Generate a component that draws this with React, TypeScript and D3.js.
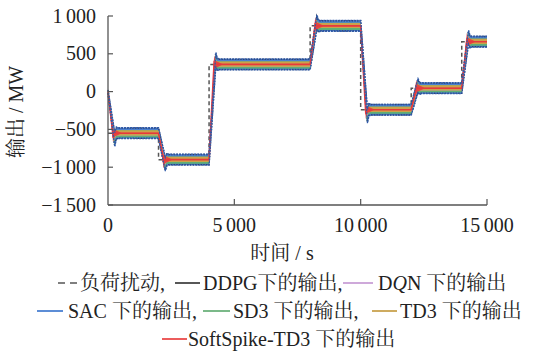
import React from "react";
import * as d3 from "d3";

// ---- data ----
const stepTimes = [0, 2000, 4000, 8000, 10000, 12000, 14000];
const loadLevels = [-550, -900, 360, 870, -240, 45, 660];
const overshoot = [-85, -60, 65, 50, -85, 35, 60];
const tEnd = 15000;

const seriesNames = ["DDPG", "DQN", "SAC", "SD3", "TD3", "SoftSpike-TD3"];
const seriesLag = [260, 250, 270, 240, 230, 200];
const seriesHalfBand = [68, 30, 72, 48, 34, 5];
const seriesOffset = [0, 0, 0, -6, 4, 0];
const seriesOvershootRatio = [0.9, 0.6, 1.0, 1.0, 0.6, 0.4];
const seriesSpread = [15, 12, 20, 18, 12, 85];

const xTicks = [0, 5000, 10000, 15000];
const yTicks = [1000, 500, 0, -500, -1000, -1500];

// ---- styles ----
const LATIN = "'Liberation Serif', 'Times New Roman', serif";
const CJK = "'Noto Serif CJK SC', 'Noto Sans CJK SC', serif";
const colors: Record<string, string> = {
  DDPG: "#3b3b3b",
  DQN: "#c79ad3",
  SAC: "#4a7fd0",
  SD3: "#5fae74",
  TD3: "#cba24a",
  "SoftSpike-TD3": "#e8383d",
};
const legendColors: Record<string, string> = {
  DDPG: "#444",
  DQN: "#c9a0d6",
  SAC: "#4a80d2",
  SD3: "#6cb27c",
  TD3: "#c9a24e",
  "SoftSpike-TD3": "#ea4a4a",
};

// split text into runs of CJK / non-CJK, each with its own font
function Runs({ s, italic }: { s: string; italic?: string }) {
  const parts: { t: string; cjk: boolean }[] = [];
  for (const ch of s) {
    const cjk = /[\u3000-\u9fff\uff00-\uffef]/.test(ch);
    const last = parts[parts.length - 1];
    if (last && last.cjk === cjk) last.t += ch;
    else parts.push({ t: ch, cjk });
  }
  return (
    <>
      {parts.map((p, i) => {
        if (!p.cjk && italic && p.t.includes(italic)) {
          const [a, b] = p.t.split(italic);
          return (
            <React.Fragment key={i}>
              <tspan fontFamily={LATIN}>{a}</tspan>
              <tspan fontFamily={LATIN} fontStyle="italic">{italic}</tspan>
              <tspan fontFamily={LATIN}>{b}</tspan>
            </React.Fragment>
          );
        }
        return (
          <tspan key={i} fontFamily={p.cjk ? CJK : LATIN}>{p.t}</tspan>
        );
      })}
    </>
  );
}

// number label with thin gap as thousands separator and a true minus
function NumLabel({ v }: { v: number }) {
  const s = d3.format("d")(Math.abs(v));
  const groups: string[] = [];
  for (let i = s.length; i > 0; i -= 3) groups.unshift(s.slice(Math.max(0, i - 3), i));
  return (
    <>
      {v < 0 && <tspan fontFamily={LATIN}>{"\u2212"}</tspan>}
      {groups.map((g, i) => (
        <tspan key={i} fontFamily={LATIN} dx={i > 0 ? 3.5 : 0}>{g}</tspan>
      ))}
    </>
  );
}

type P = { t: number; v: number; hw: number };

function buildSeries(si: number): P[] {
  const lag = seriesLag[si];
  const w = seriesHalfBand[si];
  const off = seriesOffset[si];
  const r = seriesOvershootRatio[si];
  const sp = seriesSpread[si];
  const isRed = seriesNames[si] === "SoftSpike-TD3";
  const settle = isRed ? 320 : 140;
  const pts: P[] = [{ t: 0, v: 0, hw: w * 0.3 }];
  stepTimes.forEach((T, i) => {
    const L = loadLevels[i] + off;
    if (i > 0) pts.push({ t: T, v: loadLevels[i - 1] + off, hw: w });
    pts.push({ t: T + lag, v: L + overshoot[i] * r, hw: w + sp });
    pts.push({ t: T + lag + 60, v: L, hw: w + sp * 0.5 });
    pts.push({ t: T + lag + settle, v: L, hw: w });
  });
  pts.push({ t: tEnd, v: loadLevels[loadLevels.length - 1] + off, hw: w });
  return pts;
}

export default function App() {
  const W = 553, H = 355;
  const x = d3.scaleLinear().domain([0, 15000]).range([108, 487]);
  const y = d3.scaleLinear().domain([-1500, 1000]).range([205, 16]);

  const area = d3.area<P>().x((d) => x(d.t)).y0((d) => y(d.v - d.hw)).y1((d) => y(d.v + d.hw));
  const upper = d3.line<P>().x((d) => x(d.t)).y((d) => y(d.v + d.hw));
  const lower = d3.line<P>().x((d) => x(d.t)).y((d) => y(d.v - d.hw));
  const mid = d3.line<P>().x((d) => x(d.t)).y((d) => y(d.v));

  const loadPts: [number, number][] = stepTimes.map((t, i) => [t, loadLevels[i]]);
  loadPts.push([tEnd, loadLevels[loadLevels.length - 1]]);
  const loadLine = d3.line<[number, number]>().x((d) => x(d[0])).y((d) => y(d[1])).curve(d3.curveStepAfter);

  const S = (name: string) => buildSeries(seriesNames.indexOf(name));
  const sac = S("SAC"), ddpg = S("DDPG"), dqn = S("DQN"), sd3 = S("SD3"), td3 = S("TD3"), ss = S("SoftSpike-TD3");

  const axisColor = "#555";
  const textColor = "#222";

  const legendRows = [
    { y: 290, items: [
      { key: "load", x1: 58, x2: 78, tx: 80, label: "负荷扰动," },
      { key: "DDPG", x1: 175, x2: 200, tx: 203, label: "DDPG下的输出," },
      { key: "DQN", x1: 343, x2: 373, tx: 378, label: "DQN 下的输出" },
    ] },
    { y: 318, items: [
      { key: "SAC", x1: 37, x2: 63, tx: 68, label: "SAC 下的输出," },
      { key: "SD3", x1: 203, x2: 230, tx: 233, label: "SD3 下的输出," },
      { key: "TD3", x1: 372, x2: 397, tx: 400, label: "TD3 下的输出" },
    ] },
    { y: 346, items: [
      { key: "SoftSpike-TD3", x1: 162, x2: 187, tx: 188, label: "SoftSpike-TD3 下的输出" },
    ] },
  ];

  return (
    <svg width={W} height={H} style={{ position: "absolute", left: 0, top: 0, background: "#fff" }}>
      <rect width={W} height={H} fill="#fff" />
      <path d={loadLine(loadPts) || ""} fill="none" stroke="#555" strokeWidth={1.5} strokeDasharray="4 3" />
      <path d={area(sac) || ""} fill={colors.SAC} />
      <path d={upper(ddpg) || ""} fill="none" stroke="#2b3f6e" strokeWidth={1.5} strokeDasharray="1.5 1.2" />
      <path d={lower(ddpg) || ""} fill="none" stroke="#2b3f6e" strokeWidth={1.5} strokeDasharray="1.5 1.2" />
      <path d={area(sd3) || ""} fill={colors.SD3} />
      <path d={area(dqn) || ""} fill={colors.DQN} opacity={0.9} />
      <path d={area(td3) || ""} fill={colors.TD3} />
      <path d={area(ss) || ""} fill={colors["SoftSpike-TD3"]} opacity={0.85} />
      <path d={mid(ss) || ""} fill="none" stroke={colors["SoftSpike-TD3"]} strokeWidth={1.6} />
      <path d={upper(sac) || ""} fill="none" stroke="#2f5aa8" strokeWidth={1.3} strokeDasharray="2 1" />
      <path d={lower(sac) || ""} fill="none" stroke="#2f5aa8" strokeWidth={1.3} strokeDasharray="2 1" />

      <line x1={x(0)} x2={x(0)} y1={y(1000)} y2={y(-1500)} stroke={axisColor} strokeWidth={1.3} />
      <line x1={x(0)} x2={x(15000)} y1={y(-1500)} y2={y(-1500)} stroke={axisColor} strokeWidth={1.3} />
      {yTicks.map((v) => (
        <g key={"y" + v}>
          <line x1={x(0)} x2={x(0) + 5} y1={y(v)} y2={y(v)} stroke={axisColor} strokeWidth={1.2} />
          <text x={96} y={y(v) + 6.5} textAnchor="end" fontSize={20} fill={textColor} fontFamily={LATIN}><NumLabel v={v} /></text>
        </g>
      ))}
      {xTicks.map((v) => (
        <g key={"x" + v}>
          {v > 0 && <line x1={x(v)} x2={x(v)} y1={y(-1500)} y2={y(-1500) - 6} stroke={axisColor} strokeWidth={1.2} />}
          <text x={x(v)} y={232} textAnchor="middle" fontSize={20} fill={textColor} fontFamily={LATIN}><NumLabel v={v} /></text>
        </g>
      ))}
      <text x={282} y={260} textAnchor="middle" fontSize={20} fill={textColor}><Runs s="时间 / s" /></text>
      <text transform="translate(23,112) rotate(-90)" textAnchor="middle" fontSize={20} fill={textColor}><Runs s="输出 / MW" /></text>

      {legendRows.map((row, ri) => (
        <g key={"r" + ri}>
          {row.items.map((it) => (
            <g key={it.key}>
              {it.key === "load" ? (
                <line x1={it.x1} x2={it.x2} y1={row.y - 7} y2={row.y - 7} stroke="#555" strokeWidth={1.4} strokeDasharray="7 5" />
              ) : (
                <line x1={it.x1} x2={it.x2} y1={row.y - 7} y2={row.y - 7} stroke={legendColors[it.key]} strokeWidth={1.8} />
              )}
              <text x={it.tx} y={row.y} fontSize={20} fill={textColor}>
                <Runs s={it.label} italic={it.key === "DQN" ? "Q" : undefined} />
              </text>
            </g>
          ))}
        </g>
      ))}
    </svg>
  );
}
